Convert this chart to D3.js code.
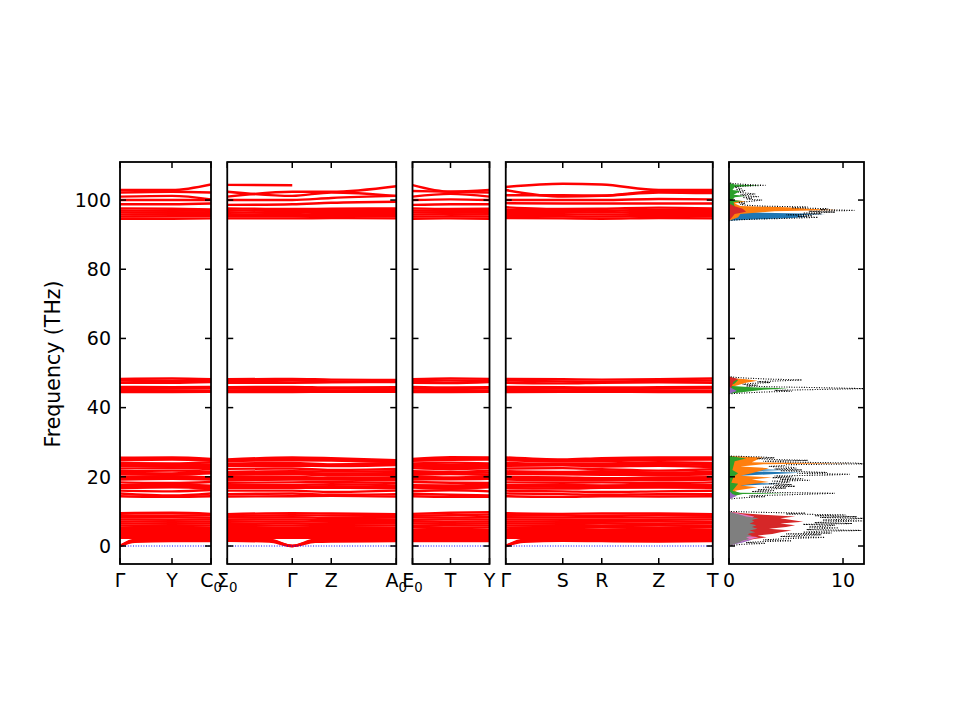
<!DOCTYPE html>
<html>
<head>
<meta charset="utf-8">
<script src="https://cdn.jsdelivr.net/npm/d3@7"></script>
<style>
  body { margin: 0; background: #fff; }
  text { font-family: "DejaVu Sans", sans-serif; fill: #000; }
</style>
</head>
<body>
<script>
// high-symmetry path, one list per panel
const nodeLabels = [['Γ', 'Y', 'C_0'], ['Σ_0', 'Γ', 'Z', 'A_0'], ['E_0', 'T', 'Y'], ['Γ', 'S', 'R', 'Z', 'T']];
const kDist = [[0, 0.52, 0.91], [0, 0.65, 1.04, 1.69], [0, 0.38, 0.77], [0, 0.57, 0.96, 1.53, 2.07]];

// band frequencies (THz) at the 15 path nodes:
// Γ Y C0 | Σ0 Γ Z A0 | E0 T Y | Γ S R Z T   (null = branch not drawn)
const bandsHigh = [
  [102.9, 102.9, 104.5, 104.4, 104.3, null, null, 104.3, 102.4, 102.9, 103.8, 104.7, 104.5, 102.9, 102.9],
  [102.2, 102.4, 102.2, 101.0, 102.4, 102.4, 104.0, 102.6, 102.4, 102.2, 102.9, 101.0, 101.2, 102.5, 102.5],
  [101.0, 101.2, 100.2, 102.4, 101.2, 102.2, 101.2, 101.0, 101.8, 101.0, 101.4, 101.4, 101.3, 102.2, 102.0],
  [100.0, 100.0, 100.0, 100.0, 100.0, 100.6, 101.2, 100.0, 100.2, 100.0, 100.0, 100.0, 100.0, 100.3, 100.2],
  [98.8, 98.8, 99.0, 98.6, 98.8, 99.2, 99.5, 98.6, 98.8, 98.8, 99.1, 99.0, 99.0, 99.0, 99.0],
  [97.6, 97.5, 97.3, 97.6, 97.4, 97.5, 97.6, 97.6, 97.4, 97.5, 97.9, 97.4, 97.5, 97.8, 97.6],
  [97.0, 96.9, 97.0, 97.1, 96.8, 97.0, 97.1, 97.0, 96.9, 96.9, 97.2, 97.0, 96.9, 97.2, 97.1],
  [96.4, 96.4, 96.5, 96.5, 96.3, 96.6, 96.5, 96.4, 96.4, 96.3, 96.6, 96.5, 96.4, 96.6, 96.5],
  [95.8, 95.9, 95.9, 95.9, 95.8, 96.0, 95.9, 95.8, 95.9, 95.8, 96.0, 95.9, 95.8, 96.0, 95.9],
  [95.2, 95.3, 95.3, 95.3, 95.3, 95.4, 95.3, 95.2, 95.3, 95.2, 95.4, 95.3, 95.2, 95.4, 95.3],
  [94.6, 94.6, 94.7, 94.7, 94.7, 94.8, 94.7, 94.6, 94.7, 94.6, 94.8, 94.7, 94.6, 94.8, 94.7]
];
const bandsOxygen = [
  [48.3, 48.4, 48.2, 48.2, 48.3, 48.1, 48.0, 48.2, 48.4, 48.3, 48.3, 48.2, 48.1, 48.2, 48.4],
  [47.8, 47.7, 47.8, 47.7, 47.8, 47.6, 47.5, 47.7, 47.8, 47.7, 47.8, 47.6, 47.5, 47.7, 47.8],
  [47.2, 47.2, 47.4, 47.2, 47.2, 47.3, 47.4, 47.2, 47.1, 47.4, 47.2, 47.0, 47.2, 47.3, 47.2],
  [46.0, 45.9, 46.0, 45.9, 46.0, 45.8, 45.9, 46.0, 45.8, 45.9, 46.0, 45.9, 45.8, 45.9, 46.0],
  [45.4, 45.5, 45.6, 45.5, 45.4, 45.5, 45.6, 45.5, 45.4, 45.6, 45.4, 45.5, 45.6, 45.5, 45.6],
  [44.9, 45.0, 44.9, 45.0, 44.9, 45.0, 45.1, 45.0, 44.9, 45.0, 44.9, 45.0, 45.1, 45.0, 44.9],
  [44.5, 44.5, 44.6, 44.5, 44.5, 44.6, 44.6, 44.5, 44.5, 44.6, 44.5, 44.6, 44.6, 44.5, 44.5]
];
const bandsMid = [
  [25.5, 25.6, 25.2, 25.0, 25.6, 25.4, 24.8, 25.2, 25.7, 25.6, 25.6, 25.0, 25.4, 25.6, 25.6],
  [25.1, 25.3, 24.9, 24.7, 25.2, 25.0, 24.6, 24.9, 25.3, 25.3, 25.2, 24.7, 24.9, 25.2, 25.3],
  [24.8, 25.0, 24.6, 24.5, 24.8, 24.7, 24.3, 24.6, 24.9, 25.0, 24.8, 24.4, 24.5, 24.9, 25.0],
  [24.0, 23.9, 24.1, 23.8, 24.0, 23.6, 24.0, 23.9, 24.1, 23.9, 24.0, 23.7, 23.8, 24.2, 24.0],
  [23.6, 23.4, 23.5, 23.5, 23.6, 23.4, 23.7, 23.4, 23.5, 23.4, 23.6, 23.5, 23.4, 23.7, 23.4],
  [23.2, 23.0, 22.8, 23.2, 23.2, 23.1, 23.4, 23.0, 22.8, 23.0, 23.2, 23.3, 23.0, 23.2, 22.8],
  [22.4, 22.5, 22.2, 22.3, 22.4, 22.0, 22.3, 22.5, 22.2, 22.5, 22.4, 22.5, 22.2, 21.8, 22.2],
  [21.6, 21.8, 21.5, 21.4, 21.6, 21.5, 21.6, 21.6, 21.4, 21.8, 21.6, 21.4, 21.6, 21.2, 21.5],
  [21.2, 21.0, 21.3, 21.0, 21.2, 20.9, 21.1, 21.1, 21.1, 21.2, 21.2, 21.0, 21.1, 20.9, 21.1],
  [20.8, 20.6, 21.0, 20.6, 20.8, 20.4, 20.6, 20.6, 20.8, 20.6, 20.8, 20.7, 20.6, 20.5, 20.7],
  [20.0, 20.2, 19.8, 20.0, 20.0, 19.7, 19.9, 20.1, 19.8, 20.2, 20.0, 19.8, 19.6, 19.8, 19.9],
  [19.6, 19.8, 19.5, 19.5, 19.6, 19.4, 19.5, 19.6, 19.5, 19.8, 19.6, 19.4, 19.3, 19.4, 19.5],
  [19.2, 19.4, 19.2, 19.0, 19.2, 19.2, 19.0, 19.2, 19.3, 19.4, 19.2, 19.0, 19.1, 19.0, 19.2],
  [18.4, 18.2, 18.5, 18.3, 18.4, 18.5, 18.2, 18.5, 18.3, 18.2, 18.4, 18.3, 18.4, 18.2, 18.4],
  [17.6, 17.8, 17.4, 17.6, 17.6, 17.9, 17.5, 17.6, 17.5, 17.8, 17.6, 17.6, 17.5, 17.6, 17.6],
  [17.2, 17.4, 17.0, 17.2, 17.2, 17.3, 17.1, 17.2, 17.0, 17.4, 17.2, 17.1, 17.1, 17.2, 17.2],
  [16.8, 17.0, 16.6, 16.8, 16.8, 16.8, 16.7, 16.9, 16.6, 17.0, 16.8, 16.6, 16.8, 16.9, 16.8],
  [16.0, 15.8, 16.2, 16.0, 16.0, 15.6, 16.0, 15.9, 16.1, 15.8, 16.0, 15.8, 15.6, 15.8, 16.0],
  [15.2, 14.6, 15.2, 15.0, 15.2, 14.8, 15.0, 15.1, 14.8, 14.6, 15.2, 15.0, 14.8, 15.0, 15.0],
  [14.4, 14.2, 14.4, 14.3, 14.4, 14.5, 14.3, 14.4, 14.2, 14.2, 14.4, 14.2, 14.4, 14.3, 14.4]
];
const bandsLow = [
  [9.5, 9.6, 9.3, 9.2, 9.5, 9.4, 9.2, 9.3, 9.6, 9.8, 9.5, 9.3, 9.4, 9.4, 9.2],
  [8.9, 8.8, 8.9, 8.7, 8.9, 8.8, 8.7, 8.8, 8.9, 9.1, 8.9, 8.8, 8.7, 8.9, 8.8],
  [8.3, 8.3, 8.2, 8.2, 8.3, 8.1, 8.2, 8.3, 8.2, 8.4, 8.3, 8.2, 8.2, 8.2, 8.3],
  [7.7, 7.6, 7.7, 7.6, 7.7, 7.5, 7.6, 7.6, 7.7, 7.7, 7.7, 7.6, 7.5, 7.6, 7.7],
  [7.1, 7.0, 7.1, 7.0, 7.1, 7.0, 7.0, 7.1, 7.0, 7.1, 7.1, 7.0, 7.0, 7.1, 7.0],
  [6.5, 6.4, 6.5, 6.4, 6.5, 6.4, 6.5, 6.5, 6.4, 6.5, 6.5, 6.4, 6.5, 6.4, 6.5],
  [5.9, 5.8, 5.9, 5.8, 5.9, 5.8, 5.9, 5.8, 5.9, 5.9, 5.9, 5.8, 5.8, 5.9, 5.8],
  [5.3, 5.2, 5.3, 5.2, 5.3, 5.2, 5.2, 5.3, 5.2, 5.3, 5.3, 5.2, 5.3, 5.2, 5.3],
  [4.7, 4.6, 4.7, 4.6, 4.7, 4.6, 4.7, 4.6, 4.7, 4.6, 4.7, 4.6, 4.6, 4.7, 4.6],
  [4.1, 4.0, 4.1, 4.0, 4.1, 4.0, 4.0, 4.1, 4.0, 4.1, 4.1, 4.0, 4.1, 4.0, 4.1],
  [3.5, 3.4, 3.5, 3.4, 3.5, 3.4, 3.5, 3.4, 3.5, 3.4, 3.5, 3.4, 3.4, 3.5, 3.4],
  [2.9, 2.9, 2.8, 2.9, 2.9, 2.8, 2.9, 2.8, 2.9, 2.8, 2.9, 2.8, 2.9, 2.8, 2.9],
  [2.4, 2.4, 2.3, 2.4, 2.4, 2.3, 2.3, 2.4, 2.3, 2.4, 2.4, 2.3, 2.3, 2.4, 2.3]
];

// acoustic branches, sampled more finely near Γ: k positions per panel, then values
const acousticK = [[0, 0.15, 0.52, 0.91], [0, 0.42, 0.65, 0.88, 1.04, 1.69], [0, 0.38, 0.77], [0, 0.18, 0.57, 0.96, 1.53, 2.07]];
const bandsAcoustic = [
  [0.0, 1.8, 2.0, 1.9, 1.9, 1.8, 0.0, 1.8, 1.8, 1.9, 1.9, 1.9, 2.0, 0.0, 1.8, 2.0, 1.9, 1.8, 1.9],
  [0.0, 1.5, 1.7, 1.6, 1.7, 1.6, 0.0, 1.5, 1.5, 1.6, 1.6, 1.7, 1.7, 0.0, 1.5, 1.8, 1.7, 1.5, 1.6],
  [0.0, 1.2, 1.4, 1.4, 1.5, 1.3, 0.0, 1.2, 1.3, 1.4, 1.4, 1.4, 1.4, 0.0, 1.2, 1.5, 1.4, 1.3, 1.4]
];

const yTicks = [0, 20, 40, 60, 80, 100];
const dosTicks = [0, 10];

// total DOS, sampled every 0.25 THz from the start of each window
const dosStep = 0.25;
const dosTotalLow = [0, 0.4, 1.2, 3.2, 1.5, 2.8, 5.5, 3.0, 4.2, 6.0, 8.4, 4.5, 6.2, 8.1, 5.0, 9.0, 6.5, 7.8, 11.6, 6.8,
  8.0, 9.6, 7.0, 8.5, 9.3, 6.5, 10.8, 7.5, 9.0, 11.8, 8.2, 10.5, 11.8, 8.0, 11.2, 7.5, 10.2, 5.0, 6.7, 2.6, 0];
const dosTotalMid = [0, 0.5, 1.5, 3.2, 1.8, 4.5, 7.1, 9.3, 3.5, 2.0, 4.0, 2.5, 3.7, 5.0, 3.0, 5.8, 4.0, 5.5, 3.5, 4.6,
  5.3, 3.8, 7.1, 4.5, 6.5, 3.8, 5.5, 4.0, 8.6, 10.6, 6.0, 8.6, 6.5, 4.5, 6.4, 4.0, 5.9, 5.5, 3.5, 4.8,
  5.0, 11.8, 11.0, 5.0, 3.0, 6.9, 3.9, 2.5, 4.0, 2.7, 0];
const dosTotalOxygen = [0, 1.4, 3.0, 5.5, 4.0, 8.0, 11.8, 8.4, 4.0, 1.5, 2.5, 1.2, 2.0, 3.6, 2.5, 4.5, 6.4, 3.5, 1.7, 0.5, 0];
const dosTotalHigh = [0, 0.5, 2.5, 5.5, 7.8, 6.0, 7.3, 5.0, 8.1, 6.5, 9.3, 7.0, 11.0, 8.0, 8.7, 5.5, 6.9, 3.0, 1.5, 1.0,
  1.4, 0.8, 1.5, 2.2, 2.9, 1.5, 2.0, 1.2, 2.6, 1.5, 1.0, 2.3, 1.5, 0.8, 1.2, 1.4, 0.6, 1.1, 0.8, 0.5,
  1.0, 3.2, 1.5, 0.4, 0];
const dosStarts = [0, 13.5, 44, 94];

// projected DOS, [frequency, states] pairs
const pdosBlue = [[13.5, 0], [17, 0], [17.5, 1.5], [18, 4.5], [18.3, 1.0], [19, 0.5], [20.3, 1.0], [20.8, 4.0], [21.2, 6.3],
  [21.6, 2.0], [22, 5.0], [22.4, 0.5], [23, 0], [94, 0], [94.3, 1.5], [94.8, 5.5], [95.2, 7.0], [95.6, 6.0], [96, 8.5],
  [96.3, 3.0], [96.7, 1.0], [97.2, 0], [105, 0]];
const pdosOrange = [[13.5, 0], [14.5, 0.5], [15, 1.0], [16, 0.5], [17, 2.5], [17.5, 1.0], [18.5, 3.5], [19.2, 2.0],
  [19.8, 3.8], [20.3, 1.0], [21, 2.0], [22.5, 3.5], [23, 1.0], [23.6, 3.0], [23.9, 10.8], [24.2, 2.0], [25, 2.5],
  [25.6, 3.0], [26, 0], [44, 0], [45, 0.5], [46, 0.3], [47.2, 1.5], [47.8, 2.5], [48.2, 1.5], [48.6, 0], [94, 0],
  [95, 0.8], [96, 1.0], [96.8, 4.0], [97.1, 9.5], [97.5, 7.0], [97.9, 5.0], [98.3, 1.0], [99, 0.5], [99.6, 1.5],
  [100, 0.3], [101, 0], [105, 0]];
const pdosGreen = [[0, 0], [1, 0.3], [4, 0.4], [8, 0.5], [10, 0], [13.5, 0], [14.5, 0.5], [15.0, 1.2], [15.2, 5.2],
  [15.4, 1.0], [16, 0.3], [18, 0.8], [18.3, 0.2], [20, 0.4], [21, 0.8], [22, 0.3], [24.5, 0.5], [25.3, 1.5], [26, 0],
  [44, 0], [44.6, 1.5], [45.2, 3.0], [45.5, 5.2], [45.9, 2.0], [46.3, 0], [47, 0.5], [48, 0.8], [49, 0],
  [94, 0], [96, 0.3], [98, 0.5], [99.4, 0.4], [99.7, 1.2], [100, 0.3], [100.8, 0.5], [101.2, 1.5], [101.5, 0.4],
  [102.6, 1.0], [102.9, 0.3], [103.8, 0.5], [104.2, 2.8], [104.5, 0.5], [105, 0]];
const pdosRed = [[0, 0], [0.8, 0.5], [1.5, 1.5], [2, 2.2], [2.5, 3.3], [3, 2.5], [3.5, 3.8], [4, 4.5], [4.5, 5.5],
  [5, 3.5], [5.5, 5.0], [6, 5.8], [6.5, 4.5], [7, 6.5], [7.5, 5.5], [8, 4.5], [8.5, 5.8], [9, 3.0], [9.5, 1.2], [10, 0],
  [44, 0], [47.5, 0.4], [48.3, 0.8], [49, 0], [94, 0], [96, 0.5], [96.6, 1.5], [97.5, 1.2], [98.2, 0.5], [99, 0], [105, 0]];
const pdosPurple = [[0, 0], [0.5, 0.5], [1, 1.2], [1.8, 2.0], [2.5, 1.0], [3.5, 1.2], [5, 0.8], [7, 0.6], [9, 0.5],
  [10, 0], [13.5, 0], [14.5, 0.7], [15, 0.3], [16, 0], [44, 0], [44.8, 0.7], [45.2, 0.5], [46, 0], [105, 0]];
const pdosBrown = [[0, 0], [1, 0.4], [3, 0.6], [6, 0.5], [9, 0.4], [10, 0]];
const pdosPink = [[0, 0], [1, 0.8], [2, 2.0], [2.5, 2.6], [3, 1.5], [4, 1.8], [5, 1.2], [6, 1.5], [7, 2.0], [7.5, 1.8],
  [8.5, 2.2], [9.5, 0.8], [10, 0]];
const pdosGray = [[0, 0], [0.5, 0.4], [1, 0.9], [1.5, 1.2], [2, 1.8], [2.5, 1.5], [3, 2.0], [3.5, 1.6], [4, 2.3],
  [4.5, 1.8], [5, 2.5], [5.5, 2.0], [6, 2.4], [6.5, 1.8], [7, 2.2], [7.5, 2.0], [8, 2.6], [8.5, 1.5], [9, 1.0],
  [9.5, 0.5], [10, 0]];

const pdosList = [
  { values: pdosBlue, color: '#1f77b4' },
  { values: pdosOrange, color: '#ff7f0e' },
  { values: pdosGreen, color: '#2ca02c' },
  { values: pdosRed, color: '#d62728' },
  { values: pdosPurple, color: '#9467bd' },
  { values: pdosBrown, color: '#8c564b' },
  { values: pdosPink, color: '#e377c2' },
  { values: pdosGray, color: '#7f7f7f' }
];

// layout
const width = 960, height = 720;
const plotTop = 162, plotBottom = 564, plotLeft = 120;
const pxPerK = 100, gap = 16.25, dosWidth = 135;
const tickLen = 6, fontSize = 19, bandWidth = 2.4;

const svg = d3.select('body').append('svg').attr('width', width).attr('height', height);
const y = d3.scaleLinear().domain([-5.2, 111]).range([plotBottom, plotTop]);

function addLabel(g, str, x, yPos) {
  const [base, sub] = str.split('_');
  const t = g.append('text').attr('x', x).attr('y', yPos).attr('text-anchor', 'middle')
    .attr('font-size', fontSize).text(base);
  if (sub) t.append('tspan').attr('font-size', fontSize * 0.7).attr('dy', 4.5).text(sub);
}

function drawFrame(x0, x1) {
  const g = svg.append('g');
  yTicks.forEach(v => {
    g.append('line').attr('x1', x0).attr('x2', x0 + tickLen).attr('y1', y(v)).attr('y2', y(v));
    g.append('line').attr('x1', x1).attr('x2', x1 - tickLen).attr('y1', y(v)).attr('y2', y(v));
  });
  g.selectAll('line').attr('stroke', '#000').attr('stroke-width', 1.5);
  g.append('rect').attr('x', x0).attr('y', plotTop).attr('width', x1 - x0).attr('height', plotBottom - plotTop)
    .attr('fill', 'none').attr('stroke', '#000').attr('stroke-width', 1.8);
  return g;
}

const allBands = [...bandsHigh, ...bandsOxygen, ...bandsMid, ...bandsLow];
let x0 = plotLeft, nodeOffset = 0, acOffset = 0;
const defs = svg.append('defs');

kDist.forEach((ks, p) => {
  const kMax = ks[ks.length - 1];
  const x = d3.scaleLinear().domain([0, kMax]).range([x0, x0 + kMax * pxPerK]);
  const clipId = 'clip' + p;
  defs.append('clipPath').attr('id', clipId).append('rect')
    .attr('x', x0).attr('y', plotTop).attr('width', kMax * pxPerK).attr('height', plotBottom - plotTop);

  const line = d3.line()
    .defined(d => d[1] != null)
    .x(d => x(d[0])).y(d => y(d[1]))
    .curve(d3.curveMonotoneX);

  const g = svg.append('g').attr('clip-path', `url(#${clipId})`);
  allBands.forEach(band => {
    const pts = ks.map((k, i) => [k, band[nodeOffset + i]]);
    g.append('path').attr('d', line(pts)).attr('fill', 'none')
      .attr('stroke', '#ff0000').attr('stroke-width', bandWidth);
  });
  const acK = acousticK[p];
  bandsAcoustic.forEach(band => {
    const pts = acK.map((k, i) => [k, band[acOffset + i]]);
    g.append('path').attr('d', line(pts)).attr('fill', 'none')
      .attr('stroke', '#ff0000').attr('stroke-width', bandWidth);
  });
  // zero reference
  g.append('line').attr('x1', x(0)).attr('x2', x(kMax)).attr('y1', y(0)).attr('y2', y(0))
    .attr('stroke', '#0000ff').attr('stroke-width', 1).attr('stroke-dasharray', '1,1.6');

  const frame = drawFrame(x(0), x(kMax));
  ks.forEach((k, i) => {
    frame.append('line').attr('x1', x(k)).attr('x2', x(k)).attr('y1', plotBottom).attr('y2', plotBottom - tickLen)
      .attr('stroke', '#000').attr('stroke-width', 1.5);
    frame.append('line').attr('x1', x(k)).attr('x2', x(k)).attr('y1', plotTop).attr('y2', plotTop + tickLen)
      .attr('stroke', '#000').attr('stroke-width', 1.5);
    addLabel(svg, nodeLabels[p][i], x(k), 587);
  });

  if (p === 0) {
    yTicks.forEach(v => {
      svg.append('text').attr('x', x0 - 9).attr('y', y(v)).attr('dy', '0.36em')
        .attr('text-anchor', 'end').attr('font-size', fontSize).text(v);
    });
  }

  nodeOffset += ks.length;
  acOffset += acK.length;
  x0 += kMax * pxPerK + gap;
});

// density of states panel
const xd = d3.scaleLinear().domain([0, 11.84]).range([x0, x0 + dosWidth]);
defs.append('clipPath').attr('id', 'clipDos').append('rect')
  .attr('x', x0).attr('y', plotTop).attr('width', dosWidth).attr('height', plotBottom - plotTop);
const gd = svg.append('g').attr('clip-path', 'url(#clipDos)');

const area = d3.area().x0(xd(0)).x1(d => xd(d[1])).y(d => y(d[0]));
pdosList.forEach(s => {
  gd.append('path').attr('d', area(s.values)).attr('fill', s.color).attr('stroke', 'none');
});

const dosLine = d3.line().x(d => xd(d[1])).y(d => y(d[0]));
[dosTotalLow, dosTotalMid, dosTotalOxygen, dosTotalHigh].forEach((vals, r) => {
  const pts = vals.map((v, i) => [dosStarts[r] + i * dosStep, v]);
  gd.append('path').attr('d', dosLine(pts)).attr('fill', 'none')
    .attr('stroke', '#000').attr('stroke-width', 1.1).attr('stroke-dasharray', '1,1.5');
});

const dosFrame = drawFrame(x0, x0 + dosWidth);
dosTicks.forEach(v => {
  dosFrame.append('line').attr('x1', xd(v)).attr('x2', xd(v)).attr('y1', plotBottom).attr('y2', plotBottom - tickLen)
    .attr('stroke', '#000').attr('stroke-width', 1.5);
  dosFrame.append('line').attr('x1', xd(v)).attr('x2', xd(v)).attr('y1', plotTop).attr('y2', plotTop + tickLen)
    .attr('stroke', '#000').attr('stroke-width', 1.5);
  svg.append('text').attr('x', xd(v)).attr('y', 587).attr('text-anchor', 'middle')
    .attr('font-size', fontSize).text(v);
});

svg.append('text').attr('transform', `translate(60,${(plotTop + plotBottom) / 2 + 1}) rotate(-90)`)
  .attr('text-anchor', 'middle').attr('font-size', 20.5).text('Frequency (THz)');
</script>
</body>
</html>
